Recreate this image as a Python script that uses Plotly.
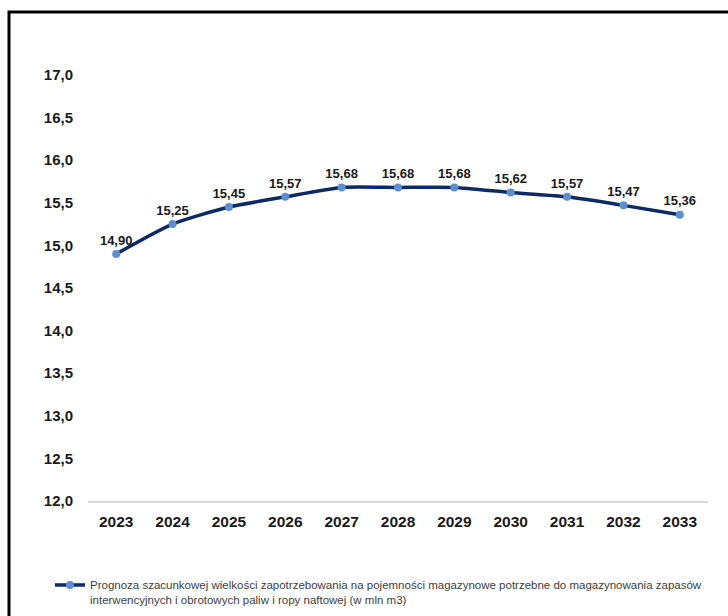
import plotly.graph_objects as go

years = ["2023", "2024", "2025", "2026", "2027", "2028", "2029", "2030", "2031", "2032", "2033"]
values = [14.90, 15.25, 15.45, 15.57, 15.68, 15.68, 15.68, 15.62, 15.57, 15.47, 15.36]
value_labels = ["14,90", "15,25", "15,45", "15,57", "15,68", "15,68", "15,68", "15,62", "15,57", "15,47", "15,36"]
y_ticks = [12.0, 12.5, 13.0, 13.5, 14.0, 14.5, 15.0, 15.5, 16.0, 16.5, 17.0]
y_tick_labels = ["12,0", "12,5", "13,0", "13,5", "14,0", "14,5", "15,0", "15,5", "16,0", "16,5", "17,0"]
series_name = ("Prognoza szacunkowej wielkości zapotrzebowania na pojemności magazynowe potrzebne do magazynowania zapasów<br>"
               "interwencyjnych i obrotowych paliw i ropy naftowej (w mln m3)")

FONT = "Liberation Sans, Arial, sans-serif"

fig = go.Figure()
fig.add_trace(go.Scatter(
    x=years, y=values,
    mode="lines+markers+text",
    name=series_name,
    line=dict(color="#0b2a66", width=3.5, shape="spline", smoothing=0.6),
    marker=dict(color="#5b8fd0", size=8),
    text=value_labels,
    textposition="top center",
    textfont=dict(family=FONT, size=13, color="#1a1a1a", weight="bold"),
    cliponaxis=False,
))

W, H = 728, 616
L, R, T, B = 88, 20, 75, 115
pw, ph = W - L - R, H - T - B

def px_to_paper_x(px):
    return (px - L) / pw

def px_to_paper_y(py):
    return (H - B - py) / ph

fig.update_layout(
    width=W, height=H,
    margin=dict(l=L, r=R, t=T, b=B, autoexpand=False),
    paper_bgcolor="white", plot_bgcolor="white",
    font=dict(family=FONT, color="#000000"),
    showlegend=True,
    legend=dict(
        x=px_to_paper_x(50), y=px_to_paper_y(571),
        xanchor="left", yanchor="top",
        valign="top",
        font=dict(family=FONT, size=11.5, color="#404040"),
        itemwidth=30,
        bgcolor="rgba(0,0,0,0)",
    ),
    xaxis=dict(
        type="category",
        range=[-0.5, 10.5],
        showgrid=False,
        showline=True, linecolor="#d9d9d9", linewidth=1.5,
        ticks="",
        tickfont=dict(family=FONT, size=15.5, color="#1a1a1a", weight="bold"),
        ticklabelstandoff=6,
        zeroline=False,
    ),
    yaxis=dict(
        range=[12, 17],
        tickvals=y_ticks, ticktext=y_tick_labels,
        showgrid=False, zeroline=False, showline=False,
        ticks="",
        tickfont=dict(family=FONT, size=15, color="#1a1a1a", weight="bold"),
        ticklabelstandoff=14,
    ),
    shapes=[dict(
        type="rect", xref="paper", yref="paper",
        x0=px_to_paper_x(9), x1=px_to_paper_x(740),
        y0=px_to_paper_y(630), y1=px_to_paper_y(12),
        line=dict(color="black", width=3),
        fillcolor="rgba(0,0,0,0)",
        layer="above",
    )],
)

fig.write_html("out.html")
